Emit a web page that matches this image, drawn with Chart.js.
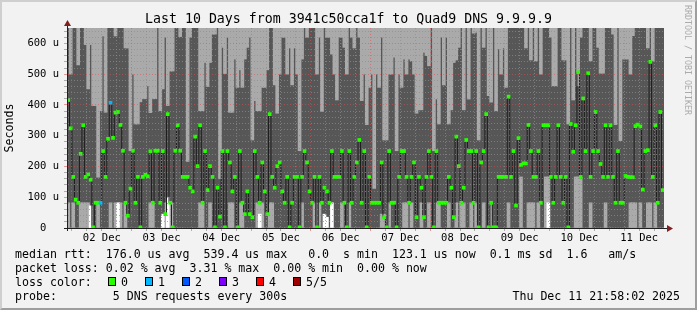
<!DOCTYPE html>
<html>
<head>
<meta charset="utf-8">
<script src="https://cdn.jsdelivr.net/npm/chart.js@4.4.0/dist/chart.umd.min.js"></script>
<style>
  html, body { margin: 0; padding: 0; background: #f2f2f2; }
  #frame { position: relative; width: 697px; height: 310px; background: #f2f2f2; overflow: hidden;
           font-family: 'DejaVu Sans Mono', monospace; color: #000; }
  #shade { position: absolute; left: 0; top: 0; width: 697px; height: 310px; box-sizing: border-box;
           border: 2px solid; border-color: #cfcfcf #9e9e9e #9e9e9e #cfcfcf; }
  canvas { position: absolute; left: 0; top: 0; }
  .title { position: absolute; left: 0; top: 12px; width: 697px; text-align: center;
           font-size: 13.25px; line-height: 14px; white-space: pre; }
  .leg { position: absolute; font-size: 11.6px; line-height: 14px; white-space: pre; }
  .box { position: absolute; top: 277px; width: 8px; height: 9px; box-sizing: border-box; border: 1px solid #000; }
  .stamp { position: absolute; left: 683px; top: 5px; writing-mode: vertical-rl; font-size: 8.3px;
           line-height: 10px; color: #ababab; white-space: pre; }
</style>
</head>
<body>
<div id="frame">
  <div id="shade"></div>
  <canvas id="smoke" width="697" height="310"></canvas>
  <div class="title">Last 10 Days from 3941c50cca1f to Quad9 DNS 9.9.9.9</div>
  <div class="stamp">RRDTOOL / TOBI OETIKER</div>
  <div class="leg" style="left:15px; top:247px">median rtt:  176.0 us avg  539.4 us max   0.0  s min  123.1 us now  0.1 ms sd  1.6   am/s</div>
  <div class="leg" style="left:15px; top:261px">packet loss: 0.02 % avg  3.31 % max  0.00 % min  0.00 % now</div>
  <div class="leg" style="left:15px; top:275px">loss color:</div>
  <div id="losslegend"></div>
  <div class="leg" style="left:15px; top:289px">probe:        5 DNS requests every 300s</div>
  <div class="leg" style="right:17px; top:289px">Thu Dec 11 21:58:02 2025</div>
</div>
<script>
// one column per hour, left edge = Dec 1 22:00
const dayLabels = ['02 Dec', '03 Dec', '04 Dec', '05 Dec', '06 Dec', '07 Dec', '08 Dec', '09 Dec', '10 Dec', '11 Dec'];
const firstMidnight = 2;
const spanHours = 240;
const yMax = 650;

// median rtt per hour (us)
const median = [
  416, 324, 166, 92, 82, 241, 334, 166, 174, 157, 2, 82, 82, 82, 250, 166, 290, 407, 293, 375,
  377, 335, 251, 82, 40, 128, 251, 82, 166, 2, 166, 173, 168, 249, 82, 251, 251, 82, 250, 45,
  370, 82, 2, 251, 334, 251, 166, 166, 166, 131, 119, 297, 201, 334, 82, 250, 123, 201, 166, 2,
  131, 37, 250, 2, 250, 213, 119, 166, 2, 250, 82, 45, 119, 45, 35, 250, 166, 82, 213, 119,
  45, 370, 166, 131, 201, 213, 119, 82, 166, 2, 82, 166, 166, 2, 166, 250, 213, 119, 82, 166,
  2, 166, 82, 131, 119, 82, 250, 166, 166, 166, 250, 82, 2, 250, 82, 166, 213, 286, 82, 250,
  2, 166, 82, 82, 82, 82, 213, 35, 2, 250, 82, 82, 2, 166, 250, 250, 166, 82, 166, 213,
  35, 166, 131, 35, 166, 250, 166, 2, 250, 82, 82, 82, 82, 166, 131, 35, 297, 201, 82, 131,
  286, 250, 250, 82, 250, 2, 213, 250, 370, 2, 82, 2, 2, 166, 166, 166, 166, 427, 166, 250,
  73, 292, 205, 210, 210, 335, 250, 166, 166, 250, 82, 334, 334, 334, 166, 82, 166, 334, 166, 82,
  166, 2, 338, 248, 334, 506, 166, 421, 250, 503, 166, 250, 377, 250, 208, 166, 334, 166, 334, 166,
  82, 250, 82, 82, 169, 166, 165, 165, 331, 336, 330, 125, 250, 253, 540, 166, 334, 82, 377, 123
];

// hours whose median had packet loss, and the loss level
const lossHours = [13, 17];
const lossLevel = [1, 1];

// where the dark smoke ends and the pale outer smoke begins (us)
const smokeTop = [
  650, 500, 650, 650, 530, 650, 650, 596, 452, 596, 398, 398, 165, 381, 624, 376, 650, 650, 650, 624,
  650, 650, 650, 585, 585, 251, 500, 338, 338, 410, 420, 420, 462, 375, 420, 420, 650, 381, 452, 620,
  398, 510, 510, 650, 650, 622, 650, 650, 216, 620, 650, 650, 650, 381, 381, 538, 460, 538, 630, 630,
  650, 160, 587, 502, 620, 376, 376, 549, 457, 514, 457, 549, 587, 620, 286, 414, 381, 381, 457, 457,
  514, 650, 650, 465, 373, 500, 620, 620, 500, 585, 465, 585, 500, 251, 549, 650, 620, 650, 650, 650,
  500, 620, 379, 650, 620, 620, 565, 500, 416, 620, 620, 587, 500, 650, 620, 585, 650, 620, 414, 500,
  336, 457, 500, 129, 500, 457, 620, 286, 286, 500, 500, 555, 251, 500, 457, 549, 500, 549, 543, 500,
  373, 384, 384, 571, 560, 527, 650, 251, 419, 338, 620, 465, 620, 338, 384, 538, 546, 587, 650, 384,
  650, 419, 650, 633, 636, 286, 650, 587, 650, 430, 409, 650, 381, 582, 500, 585, 457, 650, 650, 650,
  650, 650, 650, 650, 585, 650, 546, 650, 543, 650, 500, 650, 650, 650, 620, 462, 462, 650, 650, 546,
  546, 338, 650, 416, 650, 462, 620, 650, 650, 650, 543, 650, 650, 587, 503, 503, 650, 650, 650, 630,
  336, 650, 284, 549, 549, 549, 500, 625, 650, 650, 650, 650, 650, 585, 650, 543, 650, 650, 650, 650
];

// pale smoke at the bottom of the column (us, 0 = none)
const lowBand = [
  82, 0, 82, 0, 0, 82, 82, 82, 82, 0, 0, 0, 82, 0, 0, 0, 0, 82, 0, 82,
  0, 82, 0, 82, 0, 0, 0, 0, 0, 0, 0, 0, 0, 82, 82, 0, 0, 0, 0, 82,
  0, 82, 82, 0, 0, 0, 0, 0, 0, 0, 0, 0, 0, 82, 82, 0, 0, 82, 0, 0,
  0, 0, 0, 0, 0, 82, 82, 0, 0, 82, 82, 0, 0, 0, 0, 0, 82, 82, 82, 0,
  0, 82, 82, 0, 0, 0, 0, 0, 0, 0, 0, 0, 0, 0, 82, 0, 0, 0, 0, 82,
  0, 82, 0, 0, 0, 0, 0, 0, 0, 0, 82, 0, 0, 82, 0, 0, 0, 0, 0, 0,
  0, 0, 0, 0, 0, 0, 45, 45, 0, 82, 0, 0, 0, 0, 0, 82, 82, 0, 82, 0,
  0, 0, 82, 0, 0, 82, 0, 0, 82, 82, 0, 0, 0, 82, 0, 0, 82, 0, 82, 82,
  0, 0, 82, 0, 82, 0, 0, 82, 0, 0, 82, 0, 0, 0, 0, 0, 0, 82, 0, 0,
  0, 0, 166, 0, 0, 82, 82, 82, 0, 82, 0, 0, 166, 166, 0, 0, 0, 0, 0, 0,
  0, 0, 0, 0, 166, 166, 166, 0, 0, 0, 82, 0, 0, 0, 0, 0, 82, 0, 0, 0,
  0, 0, 0, 0, 0, 0, 82, 82, 82, 0, 82, 0, 0, 82, 82, 0, 82, 0, 0, 0
];

// columns with no smoke at the bottom (white), and how high the gap goes
const gapHours = [9, 20, 38, 40, 77, 103, 104, 106, 193];
const gapTops = [72, 82, 45, 100, 45, 45, 35, 82, 82];

const lossLabels = ['0', '1', '2', '3', '4', '5/5'];
const lossColors = ['#26ff00', '#00b8ff', '#0059ff', '#7e00ff', '#ff0000', '#a10000'];

const DARK = '#575757';
const PALE = '#aaaaaa';
const GRID = 'rgba(143,143,143,0.7)';
const MGRID = 'rgba(222,79,79,0.55)';
const AXIS = '#1f1f1f';
const ARROW = '#801f1f';
const mono = 'DejaVu Sans Mono';

// legend boxes
const lossLegend = document.getElementById('losslegend');
lossLabels.forEach((lab, i) => {
    const box = document.createElement('div');
    box.className = 'box';
    box.style.left = (108 + 37 * i) + 'px';
    box.style.background = lossColors[i];
    lossLegend.appendChild(box);
    const txt = document.createElement('div');
    txt.className = 'leg';
    txt.style.left = (121 + 37 * i) + 'px';
    txt.style.top = '275px';
    txt.textContent = lab;
    lossLegend.appendChild(txt);
});

const gridHours = [];
for (let h = firstMidnight; h < spanHours; h += 6) gridHours.push(h);

const lossAt = i => {
    const k = lossHours.indexOf(i);
    return k < 0 ? 0 : lossLevel[k];
};

const col = i => i + 0.5;

const plotDecor = {
    id: 'plotDecor',
    beforeDraw(chart) {
        const { ctx, chartArea: a } = chart;
        ctx.save();
        ctx.fillStyle = '#ffffff';
        ctx.fillRect(a.left, a.top, a.right - a.left, a.bottom - a.top);
        ctx.restore();
    },
    afterDraw(chart) {
        const { ctx, chartArea: a } = chart;
        ctx.save();
        ctx.strokeStyle = AXIS;
        ctx.lineWidth = 1;
        ctx.beginPath();
        ctx.moveTo(a.left - 3, a.bottom + 0.5);
        ctx.lineTo(a.right + 4, a.bottom + 0.5);
        ctx.moveTo(a.left + 0.5, a.bottom + 3);
        ctx.lineTo(a.left + 0.5, a.top - 3);
        ctx.stroke();
        ctx.fillStyle = ARROW;
        ctx.beginPath();
        ctx.moveTo(a.right + 3, a.bottom - 3);
        ctx.lineTo(a.right + 9, a.bottom + 0.5);
        ctx.lineTo(a.right + 3, a.bottom + 4);
        ctx.fill();
        ctx.beginPath();
        ctx.moveTo(a.left - 3, a.top - 2);
        ctx.lineTo(a.left + 0.5, a.top - 8);
        ctx.lineTo(a.left + 4, a.top - 2);
        ctx.fill();
        ctx.restore();
    }
};

const barBase = { type: 'bar', grouped: false, barThickness: 3, borderWidth: 0 };

new Chart(document.getElementById('smoke'), {
    type: 'bar',
    data: {
        datasets: [
            Object.assign({}, barBase, {
                order: 0,
                data: median.map((v, i) => ({ x: col(i), y: [v - 5, v + 5] })),
                backgroundColor: ctx => lossColors[lossAt(ctx.dataIndex)]
            }),
            {
                type: 'line', order: 1,
                data: median.map((v, i) => ({ x: col(i), y: v })),
                stepped: 'middle', borderColor: '#1e1e1e', borderWidth: 1,
                pointRadius: 0, fill: false
            },
            Object.assign({}, barBase, {
                order: 2,
                data: gapHours.map((h, k) => ({ x: col(h), y: [0, gapTops[k]] })),
                backgroundColor: '#ffffff'
            }),
            Object.assign({}, barBase, {
                order: 3,
                data: lowBand.map((v, i) => ({ x: col(i), y: v > 0 ? [0, v] : null })),
                backgroundColor: PALE
            }),
            Object.assign({}, barBase, {
                order: 4,
                data: smokeTop.map((v, i) => ({ x: col(i), y: v < yMax ? [v, yMax] : null })),
                backgroundColor: PALE
            }),
            Object.assign({}, barBase, {
                order: 5,
                data: smokeTop.map((v, i) => ({ x: col(i), y: [0, v] })),
                backgroundColor: DARK
            })
        ]
    },
    options: {
        responsive: false,
        animation: false,
        events: [],
        layout: { padding: { top: 28, right: 33, left: 0, bottom: 0 } },
        plugins: { legend: { display: false }, tooltip: { enabled: false }, title: { display: false } },
        scales: {
            x: {
                type: 'linear', min: 0, max: spanHours, offset: false,
                afterBuildTicks: s => { s.ticks = gridHours.map(h => ({ value: h })); },
                afterFit: s => { s.height = 82; },
                ticks: {
                    autoSkip: false, maxRotation: 0, padding: 1, color: '#000',
                    font: { family: mono, size: 10.5 },
                    callback: v => {
                        const k = (v - firstMidnight - 12) / 24;
                        return Number.isInteger(k) ? dayLabels[k] : '';
                    }
                },
                grid: {
                    z: 1, offset: false, tickLength: 3, lineWidth: 1,
                    color: ctx => ctx.tick && (ctx.tick.value - firstMidnight) % 24 === 0 ? MGRID : GRID
                },
                border: { z: 2, color: AXIS, dash: [1, 2] }
            },
            y: {
                min: 0, max: yMax, beginAtZero: true,
                afterFit: s => { s.width = 67; },
                ticks: {
                    stepSize: 20, includeBounds: false, autoSkip: false, padding: 5, color: '#000',
                    font: { family: mono, size: 10.5 },
                    callback: v => v % 100 === 0 ? (v ? v + ' u' : '0  ') : ''
                },
                grid: {
                    z: 1, tickLength: 3, lineWidth: 1,
                    color: ctx => ctx.tick && ctx.tick.value % 100 === 0 ? MGRID : GRID
                },
                border: { z: 2, color: AXIS, dash: [1, 2] },
                title: {
                    display: true, text: 'Seconds', color: '#000',
                    font: { family: mono, size: 11.6 }, padding: { top: 3.5, bottom: 0 }
                }
            }
        }
    },
    plugins: [plotDecor]
});
</script>
</body>
</html>
